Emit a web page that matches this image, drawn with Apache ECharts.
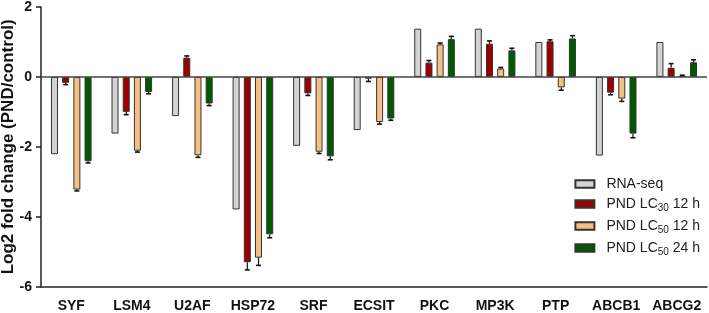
<!DOCTYPE html>
<html><head><meta charset="utf-8">
<script src="https://cdn.jsdelivr.net/npm/echarts@6/dist/echarts.min.js"></script>
<style>html,body{margin:0;padding:0;background:#fff}#c{width:709px;height:313px}</style>
</head><body><div id="c"></div>
<script>
const categories = ['SYF','LSM4','U2AF','HSP72','SRF','ECSIT','PKC','MP3K','PTP','ABCB1','ABCG2'];
const rnaSeq   = [-2.21,-1.62,-1.12,-3.79,-1.97,-1.52,1.38,1.38,1.00,-2.25,1.00];
const lc30_12h = [-0.17,-1.00,0.55,-5.30,-0.47,-0.05,0.41,0.95,1.02,-0.45,0.26];
const lc50_12h = [-3.22,-2.11,-2.24,-5.17,-2.14,-1.29,0.93,0.24,-0.30,-0.62,0.03];
const lc50_24h = [-2.41,-0.43,-0.76,-4.50,-2.27,-1.19,1.08,0.76,1.10,-1.62,0.42];
const err30_12h = [0.05,0.08,0.05,0.22,0.06,0.08,0.06,0.08,0.04,0.06,0.12];
const err50_12h = [0.04,0.04,0.06,0.22,0.05,0.06,0.04,0.03,0.08,0.08,0.02];
const err50_24h = [0.05,0.05,0.06,0.10,0.10,0.05,0.08,0.06,0.08,0.12,0.07];
const yTicks = {min:-6, max:2, interval:2};

const BW = 7, GAPPCT = 0.6, STEP = BW*(1+GAPPCT);
const FONT = '"Liberation Sans", Arial, sans-serif';
const colors = ['#d3d3d3','#9e0000','#f5bf82','#005a00'];
const names = ['RNA-seq','PND LC30 12 h','PND LC50 12 h','PND LC50 24 h'];
const vals = [rnaSeq, lc30_12h, lc50_12h, lc50_24h];
const errs = [null, err30_12h, err50_12h, err50_24h];

const series = [];
vals.forEach((v,i)=>{
  series.push({
    name:names[i], type:'bar', data:v, barWidth:BW, barGap:(GAPPCT*100)+'%',
    itemStyle:{color:colors[i], borderColor:'#333', borderWidth:1},
    emphasis:{disabled:true}, silent:true,
    markLine: i===0 ? {silent:true, symbol:'none', label:{show:false},
      lineStyle:{color:'#444', width:1.6, type:'solid'}, data:[{yAxis:0}]} : undefined
  });
});
errs.forEach((e,i)=>{
  if(!e) return;
  const d = vals[i].map((v,k)=>[k, v, e[k]]);
  series.push({
    type:'custom', silent:true, z:5, data:d,
    renderItem:(params, api)=>{
      const k=api.value(0), v=api.value(1), er=api.value(2);
      const off=(i-1.5)*STEP;
      const p0=api.coord([k,v]); const end = v>=0 ? v+er : v-er;
      const p1=api.coord([k,end]);
      const x=p0[0]+off;
      return {type:'group', children:[
        {type:'line', shape:{x1:x,y1:p0[1],x2:x,y2:p1[1]}, style:{stroke:'#111',lineWidth:1.2}},
        {type:'line', shape:{x1:x-2.5,y1:p1[1],x2:x+2.5,y2:p1[1]}, style:{stroke:'#111',lineWidth:1.6}}
      ]};
    }
  });
});

const chart = echarts.init(document.getElementById('c'));
const rich = {a:{fontFamily:FONT,fontSize:14,color:'#222'}, s:{fontFamily:FONT,fontSize:10,color:'#222',verticalAlign:'bottom',padding:[8,0,0,0]}};
chart.setOption({
  animation:false,
  grid:{left:41, right:2, top:7, bottom:26.3, containLabel:false, outerBoundsMode:'none'},
  legend:{
    data:names, orient:'vertical', right:4, top:172, itemWidth:19, itemHeight:7.5, itemGap:6,
    icon:'rect',
    formatter:(n)=>{const m=n.match(/^PND LC(\d+) (.*)$/); return m? `{a|PND LC}{s|${m[1]}}{a| ${m[2]}}` : `{a|${n}}`;},
    textStyle:{rich:rich, padding:[0,0,0,7]}
  },
  xAxis:{type:'category', data:categories, position:'bottom',
    axisLine:{onZero:false, lineStyle:{color:'#222', width:1.5}},
    axisTick:{alignWithLabel:true, length:8, lineStyle:{color:'#222', width:1.5}},
    axisLabel:{fontFamily:FONT, fontWeight:'bold', fontSize:14, color:'#111', margin:12, interval:0}},
  yAxis:{type:'value', min:yTicks.min, max:yTicks.max, interval:yTicks.interval,
    name:'Log2 fold change (PND/control)', nameLocation:'middle', nameGap:24, nameRotate:90,
    nameMoveOverlap:false,
    nameTextStyle:{fontFamily:FONT, fontWeight:'bold', fontSize:17, color:'#111'},
    axisLine:{show:true, lineStyle:{color:'#222', width:1.5}},
    axisTick:{show:true, length:5, lineStyle:{color:'#222', width:1.5}},
    splitLine:{show:false},
    axisLabel:{fontFamily:FONT, fontWeight:'bold', fontSize:14, color:'#111', margin:9}},
  series:series
});
</script></body></html>
